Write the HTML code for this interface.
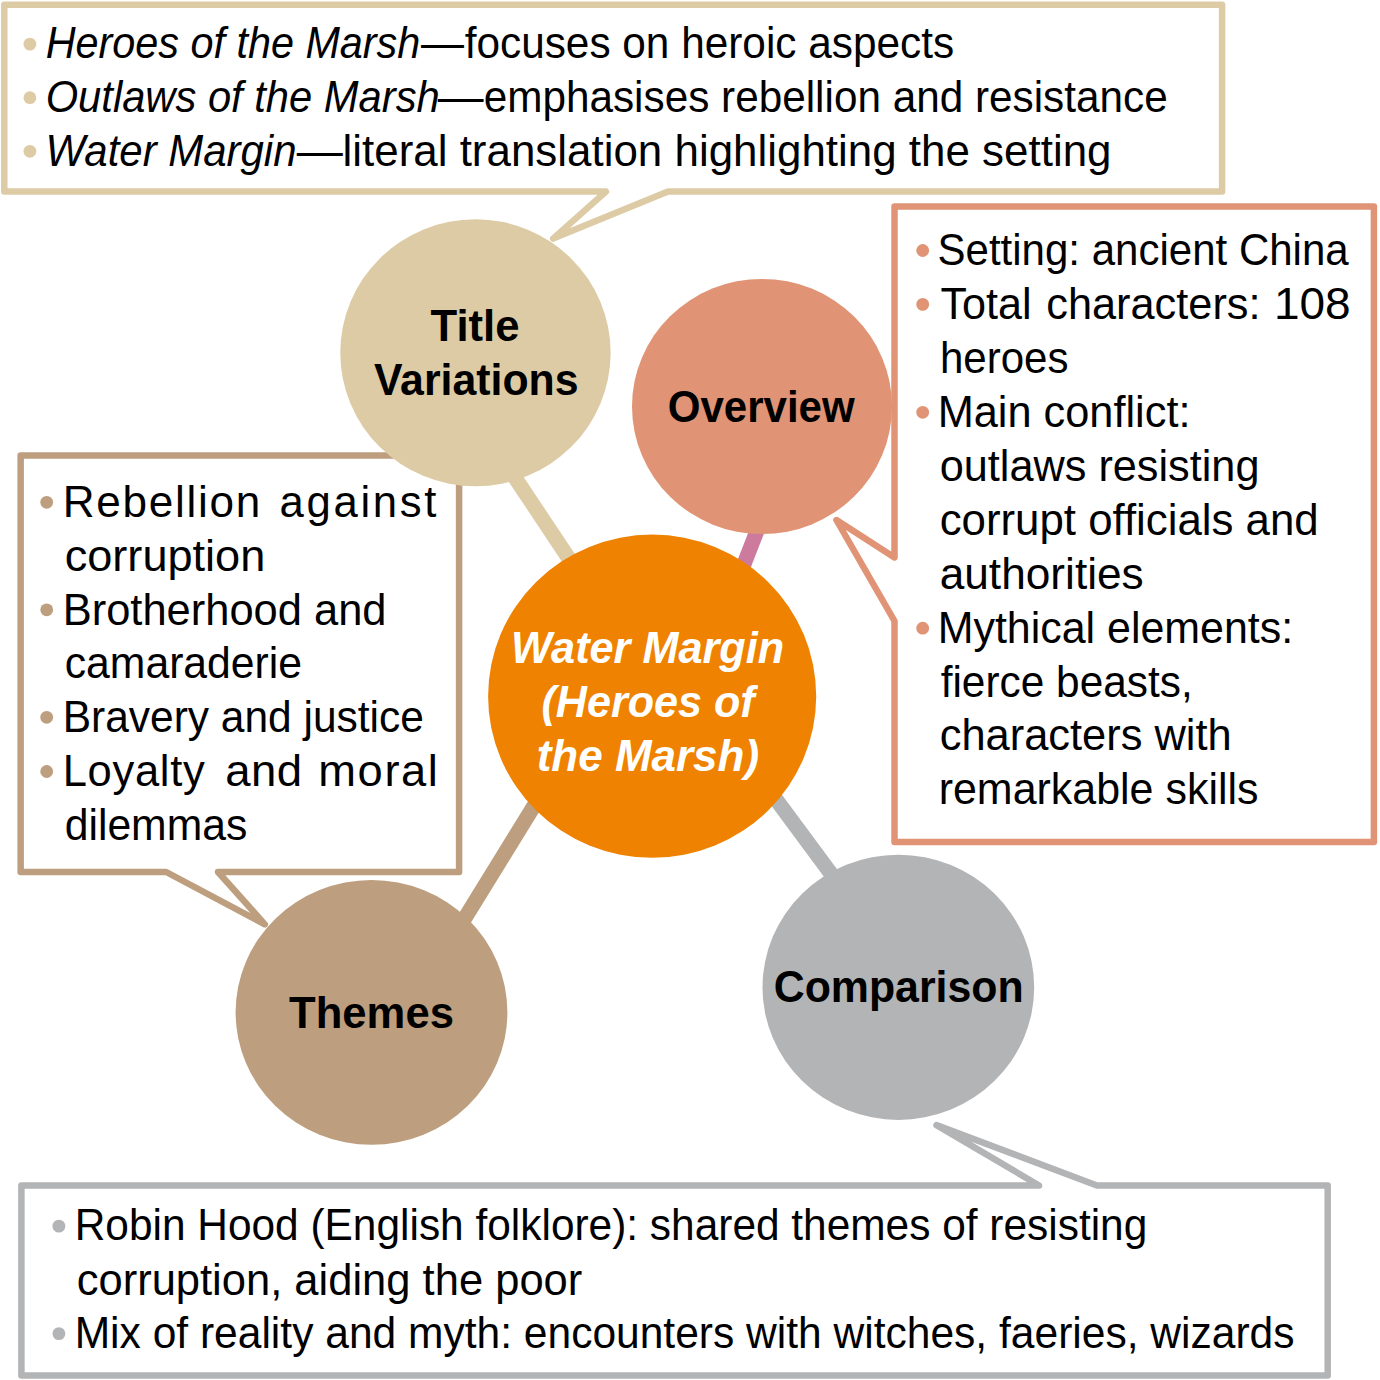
<!DOCTYPE html>
<html lang="en"><head><meta charset="utf-8"><title>Water Margin (Heroes of the Marsh)</title>
<style>
html,body{margin:0;padding:0;background:#fff}
svg{display:block}
text{font-family:"Liberation Sans", sans-serif;fill:#000}
</style></head><body>
<svg width="1380" height="1380" viewBox="0 0 1380 1380">
<rect width="1380" height="1380" fill="#fff"/>
<line x1="506.6" y1="465" x2="586.5" y2="585" stroke="#DDCBA5" stroke-width="15"/>
<line x1="763.2" y1="515" x2="735.9" y2="585" stroke="#CC7B9E" stroke-width="15"/>
<line x1="543.8" y1="790" x2="460.6" y2="925" stroke="#BD9E7E" stroke-width="15"/>
<line x1="769.1" y1="790" x2="843.1" y2="890" stroke="#B3B4B5" stroke-width="15"/>
<path d="M4.3 4.8 L1222.1 4.8 L1222.1 191.6 L668 191.6 L553.1 238.6 L605.9 191.6 L4.3 191.6 Z" fill="#fff" stroke="#DDCBA5" stroke-width="6.5" stroke-linejoin="round"/>
<path d="M894.5 206.4 L1373.9 206.4 L1373.9 842.1 L894.5 842.1 L894.5 621 L836.4 520.0 L894.5 557.4 Z" fill="#fff" stroke="#E09475" stroke-width="6.5" stroke-linejoin="round"/>
<path d="M20.65 455.5 L459.1 455.5 L459.1 872.0 L218 872.0 L264.8 924.3 L166.2 872.0 L20.65 872.0 Z" fill="#fff" stroke="#BD9E7E" stroke-width="6.5" stroke-linejoin="round"/>
<path d="M21.4 1185.5 L1039.1 1185.5 L936.5 1125.1 L1096.9 1185.5 L1327.7 1185.5 L1327.7 1375.4 L21.4 1375.4 Z" fill="#fff" stroke="#B3B4B5" stroke-width="6.5" stroke-linejoin="round"/>
<ellipse cx="475.45" cy="352.75" rx="135.2" ry="133.45" fill="#DDCBA5"/>
<ellipse cx="762" cy="406.5" rx="130" ry="127.6" fill="#E09475"/>
<ellipse cx="371.5" cy="1012.35" rx="135.9" ry="132.35" fill="#BD9E7E"/>
<ellipse cx="898.35" cy="987.3" rx="135.85" ry="132.6" fill="#B3B4B5"/>
<ellipse cx="652.15" cy="696.2" rx="164.05" ry="161.6" fill="#EF8200"/>
<circle cx="29.9" cy="44.1" r="6.4" fill="#DDCBA5"/>
<circle cx="29.9" cy="97.7" r="6.4" fill="#DDCBA5"/>
<circle cx="29.9" cy="151.3" r="6.4" fill="#DDCBA5"/>
<circle cx="46.7" cy="502.3" r="6.4" fill="#BD9E7E"/>
<circle cx="46.7" cy="609.8" r="6.4" fill="#BD9E7E"/>
<circle cx="46.7" cy="717.3" r="6.4" fill="#BD9E7E"/>
<circle cx="46.7" cy="771.5" r="6.4" fill="#BD9E7E"/>
<circle cx="922.7" cy="250.5" r="6.4" fill="#E09475"/>
<circle cx="922.7" cy="304.4" r="6.4" fill="#E09475"/>
<circle cx="922.7" cy="412.3" r="6.4" fill="#E09475"/>
<circle cx="922.7" cy="628.2" r="6.4" fill="#E09475"/>
<circle cx="58.9" cy="1226.15" r="6.4" fill="#B3B4B5"/>
<circle cx="58.9" cy="1333.65" r="6.4" fill="#B3B4B5"/>
<text id="t0" x="45.70" y="58.30" font-size="45" textLength="374.60" lengthAdjust="spacingAndGlyphs" font-style="italic">Heroes of the Marsh</text>
<text id="t1" x="420.90" y="58.30" font-size="45" textLength="43.00" lengthAdjust="spacingAndGlyphs">—</text>
<text id="t2" x="464.70" y="58.30" font-size="45" textLength="489.40" lengthAdjust="spacingAndGlyphs">focuses on heroic aspects</text>
<text id="t3" x="45.70" y="111.90" font-size="45" textLength="394.00" lengthAdjust="spacingAndGlyphs" font-style="italic">Outlaws of the Marsh</text>
<text id="t4" x="437.70" y="111.90" font-size="45" textLength="45.80" lengthAdjust="spacingAndGlyphs">—</text>
<text id="t5" x="483.70" y="111.90" font-size="45" textLength="684.00" lengthAdjust="spacingAndGlyphs">emphasises rebellion and resistance</text>
<text id="t6" x="45.50" y="165.50" font-size="45" textLength="251.00" lengthAdjust="spacingAndGlyphs" font-style="italic">Water Margin</text>
<text id="t7" x="296.70" y="165.50" font-size="45" textLength="46.00" lengthAdjust="spacingAndGlyphs">—</text>
<text id="t8" x="342.50" y="165.50" font-size="45" textLength="769.00" lengthAdjust="spacingAndGlyphs">literal translation highlighting the setting</text>
<text id="t9" x="62.70" y="517.00" font-size="45" textLength="199.40" lengthAdjust="spacingAndGlyphs" letter-spacing="1.78">Rebellion</text>
<text id="t10" x="279.50" y="517.00" font-size="45" textLength="159.60" lengthAdjust="spacingAndGlyphs" letter-spacing="2.77">against</text>
<text id="t11" x="64.70" y="571.20" font-size="45" textLength="200.60" lengthAdjust="spacingAndGlyphs">corruption</text>
<text id="t12" x="62.70" y="624.50" font-size="45" textLength="323.80" lengthAdjust="spacingAndGlyphs">Brotherhood and</text>
<text id="t13" x="64.70" y="678.20" font-size="45" textLength="237.40" lengthAdjust="spacingAndGlyphs">camaraderie</text>
<text id="t14" x="62.70" y="732.00" font-size="45" textLength="361.20" lengthAdjust="spacingAndGlyphs">Bravery and justice</text>
<text id="t15" x="62.70" y="786.20" font-size="45" textLength="142.80" lengthAdjust="spacingAndGlyphs" letter-spacing="0.73">Loyalty</text>
<text id="t16" x="225.30" y="786.20" font-size="45" textLength="77.20" lengthAdjust="spacingAndGlyphs" letter-spacing="0.40">and</text>
<text id="t17" x="318.30" y="786.20" font-size="45" textLength="121.20" lengthAdjust="spacingAndGlyphs" letter-spacing="1.58">moral</text>
<text id="t18" x="64.70" y="840.40" font-size="45" textLength="182.60" lengthAdjust="spacingAndGlyphs">dilemmas</text>
<text id="t19" x="937.50" y="264.90" font-size="45" textLength="411.20" lengthAdjust="spacingAndGlyphs">Setting: ancient China</text>
<text id="t20" x="940.50" y="318.80" font-size="45" textLength="91.20" lengthAdjust="spacingAndGlyphs">Total</text>
<text id="t21" x="1046.30" y="318.80" font-size="45" textLength="214.20" lengthAdjust="spacingAndGlyphs">characters:</text>
<text id="t22" x="1273.90" y="318.80" font-size="45" textLength="76.80" lengthAdjust="spacingAndGlyphs">108</text>
<text id="t23" x="939.90" y="372.70" font-size="45" textLength="128.60" lengthAdjust="spacingAndGlyphs">heroes</text>
<text id="t24" x="937.70" y="426.70" font-size="45" textLength="252.80" lengthAdjust="spacingAndGlyphs">Main conflict:</text>
<text id="t25" x="939.70" y="480.60" font-size="45" textLength="319.80" lengthAdjust="spacingAndGlyphs">outlaws resisting</text>
<text id="t26" x="939.70" y="534.70" font-size="45" textLength="379.00" lengthAdjust="spacingAndGlyphs">corrupt officials and</text>
<text id="t27" x="939.70" y="588.70" font-size="45" textLength="204.00" lengthAdjust="spacingAndGlyphs">authorities</text>
<text id="t28" x="937.70" y="642.60" font-size="45" textLength="355.40" lengthAdjust="spacingAndGlyphs">Mythical elements:</text>
<text id="t29" x="940.70" y="696.50" font-size="45" textLength="252.00" lengthAdjust="spacingAndGlyphs">fierce beasts,</text>
<text id="t30" x="939.70" y="750.40" font-size="45" textLength="292.00" lengthAdjust="spacingAndGlyphs">characters with</text>
<text id="t31" x="938.70" y="804.30" font-size="45" textLength="319.80" lengthAdjust="spacingAndGlyphs">remarkable skills</text>
<text id="t32" x="74.70" y="1240.30" font-size="45" textLength="1072.60" lengthAdjust="spacingAndGlyphs">Robin Hood (English folklore): shared themes of resisting</text>
<text id="t33" x="76.70" y="1294.60" font-size="45" textLength="505.60" lengthAdjust="spacingAndGlyphs">corruption, aiding the poor</text>
<text id="t34" x="74.70" y="1347.80" font-size="45" textLength="1219.80" lengthAdjust="spacingAndGlyphs">Mix of reality and myth: encounters with witches, faeries, wizards</text>
<text id="t35" x="430.50" y="341.30" font-size="45" textLength="89.00" lengthAdjust="spacingAndGlyphs" font-weight="bold">Title</text>
<text id="t36" x="373.90" y="395.20" font-size="45" textLength="204.60" lengthAdjust="spacingAndGlyphs" font-weight="bold">Variations</text>
<text id="t37" x="667.70" y="421.80" font-size="45" textLength="187.00" lengthAdjust="spacingAndGlyphs" font-weight="bold">Overview</text>
<text id="t38" x="289.10" y="1027.50" font-size="45" textLength="164.80" lengthAdjust="spacingAndGlyphs" font-weight="bold">Themes</text>
<text id="t39" x="773.70" y="1002.30" font-size="45" textLength="250.00" lengthAdjust="spacingAndGlyphs" font-weight="bold">Comparison</text>
<text id="t40" x="511.10" y="663.30" font-size="45" textLength="273.00" lengthAdjust="spacingAndGlyphs" font-style="italic" font-weight="bold" style="fill:#fff">Water Margin</text>
<text id="t41" x="541.50" y="717.20" font-size="45" textLength="213.20" lengthAdjust="spacingAndGlyphs" font-style="italic" font-weight="bold" style="fill:#fff">(Heroes of</text>
<text id="t42" x="536.70" y="771.10" font-size="45" textLength="222.40" lengthAdjust="spacingAndGlyphs" font-style="italic" font-weight="bold" style="fill:#fff">the Marsh)</text>
</svg>
</body></html>
